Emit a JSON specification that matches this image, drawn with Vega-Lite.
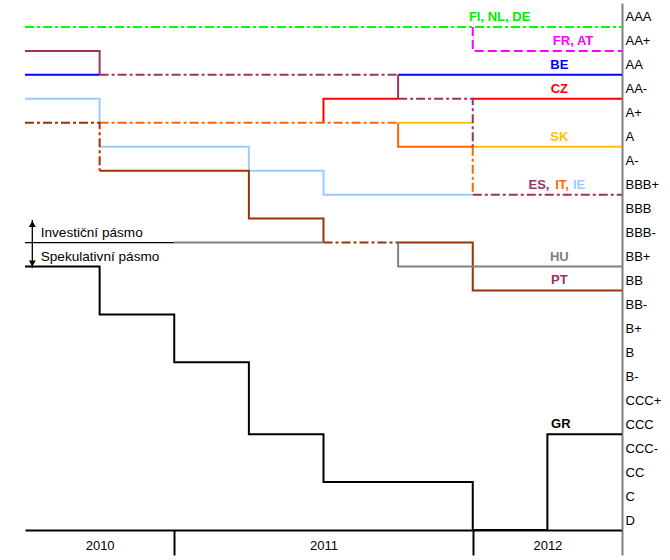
{
  "$schema": "https://vega.github.io/schema/vega-lite/v6.json",
  "width": 597,
  "height": 527,
  "autosize": {"type": "none"},
  "padding": {"left": 25, "top": 3, "right": 48, "bottom": 30},
  "background": "white",
  "config": {"view": {"stroke": null}, "font": "Liberation Sans"},
  "datasets": {
    "lines": [
      {"country": "GR", "piece": "GR", "t": 2010.5, "rating": "BB+"},
      {"country": "GR", "piece": "GR", "t": 2010.75, "rating": "BB-"},
      {"country": "GR", "piece": "GR", "t": 2011.0, "rating": "B"},
      {"country": "GR", "piece": "GR", "t": 2011.25, "rating": "CCC"},
      {"country": "GR", "piece": "GR", "t": 2011.5, "rating": "CC"},
      {"country": "GR", "piece": "GR", "t": 2012.0, "rating": "D"},
      {"country": "GR", "piece": "GR", "t": 2012.25, "rating": "CCC"},
      {"country": "GR", "piece": "GR", "t": 2012.5, "rating": "CCC"},
      {"country": "BE", "piece": "BE-1", "t": 2010.5, "rating": "AA"},
      {"country": "BE", "piece": "BE-1", "t": 2010.75, "rating": "AA"},
      {"country": "BE", "piece": "BE-2", "t": 2011.75, "rating": "AA"},
      {"country": "BE", "piece": "BE-2", "t": 2012.5, "rating": "AA"},
      {"country": "ES", "piece": "ES-1", "t": 2010.5, "rating": "AA+"},
      {"country": "ES", "piece": "ES-1", "t": 2010.75, "rating": "AA"},
      {"country": "ES", "piece": "ES-2", "t": 2010.75, "rating": "AA"},
      {"country": "ES", "piece": "ES-2", "t": 2011.75, "rating": "AA"},
      {"country": "ES", "piece": "ES-3", "t": 2011.75, "rating": "AA"},
      {"country": "ES", "piece": "ES-3", "t": 2011.75, "rating": "AA-"},
      {"country": "ES", "piece": "ES-4", "t": 2011.75, "rating": "AA-"},
      {"country": "ES", "piece": "ES-4", "t": 2012.0, "rating": "A"},
      {"country": "ES", "piece": "ES-5", "t": 2012.0, "rating": "BBB+"},
      {"country": "ES", "piece": "ES-5", "t": 2012.5, "rating": "BBB+"},
      {"country": "CZ", "piece": "CZ-1", "t": 2011.5, "rating": "A+"},
      {"country": "CZ", "piece": "CZ-1", "t": 2011.5, "rating": "AA-"},
      {"country": "CZ", "piece": "CZ-1", "t": 2011.75, "rating": "AA-"},
      {"country": "CZ", "piece": "CZ-2", "t": 2012.0, "rating": "AA-"},
      {"country": "CZ", "piece": "CZ-2", "t": 2012.5, "rating": "AA-"},
      {"country": "IT", "piece": "IT-1", "t": 2010.75, "rating": "A+"},
      {"country": "IT", "piece": "IT-1", "t": 2011.75, "rating": "A+"},
      {"country": "IT", "piece": "IT-2", "t": 2011.75, "rating": "A+"},
      {"country": "IT", "piece": "IT-2", "t": 2011.75, "rating": "A"},
      {"country": "IT", "piece": "IT-2", "t": 2012.0, "rating": "A"},
      {"country": "IT", "piece": "IT-3", "t": 2012.0, "rating": "A"},
      {"country": "IT", "piece": "IT-3", "t": 2012.0, "rating": "BBB+"},
      {"country": "SK", "piece": "SK-1", "t": 2011.75, "rating": "A+"},
      {"country": "SK", "piece": "SK-1", "t": 2012.0, "rating": "A+"},
      {"country": "SK", "piece": "SK-2", "t": 2012.0, "rating": "A"},
      {"country": "SK", "piece": "SK-2", "t": 2012.5, "rating": "A"},
      {"country": "IE", "piece": "IE-1", "t": 2010.5, "rating": "AA-"},
      {"country": "IE", "piece": "IE-1", "t": 2010.75, "rating": "A+"},
      {"country": "IE", "piece": "IE-2", "t": 2010.75, "rating": "A"},
      {"country": "IE", "piece": "IE-2", "t": 2011.25, "rating": "A-"},
      {"country": "IE", "piece": "IE-2", "t": 2011.5, "rating": "BBB+"},
      {"country": "IE", "piece": "IE-2", "t": 2012.0, "rating": "BBB+"},
      {"country": "PT", "piece": "PT-1", "t": 2010.5, "rating": "A+"},
      {"country": "PT", "piece": "PT-1", "t": 2010.75, "rating": "A-"},
      {"country": "PT", "piece": "PT-2", "t": 2010.75, "rating": "A-"},
      {"country": "PT", "piece": "PT-2", "t": 2011.25, "rating": "BBB"},
      {"country": "PT", "piece": "PT-2", "t": 2011.5, "rating": "BBB-"},
      {"country": "PT", "piece": "PT-3", "t": 2011.5, "rating": "BBB-"},
      {"country": "PT", "piece": "PT-3", "t": 2011.75, "rating": "BBB-"},
      {"country": "PT", "piece": "PT-4", "t": 2011.75, "rating": "BBB-"},
      {"country": "PT", "piece": "PT-4", "t": 2012.0, "rating": "BB"},
      {"country": "PT", "piece": "PT-4", "t": 2012.5, "rating": "BB"},
      {"country": "HU", "piece": "HU-1", "t": 2011.0, "rating": "BBB-"},
      {"country": "HU", "piece": "HU-1", "t": 2011.5, "rating": "BBB-"},
      {"country": "HU", "piece": "HU-2", "t": 2011.75, "rating": "BBB-"},
      {"country": "HU", "piece": "HU-2", "t": 2011.75, "rating": "BB+"},
      {"country": "HU", "piece": "HU-2", "t": 2012.5, "rating": "BB+"},
      {"country": "FI, NL, DE", "piece": "FI-NL-DE", "t": 2010.5, "rating": "AAA"},
      {"country": "FI, NL, DE", "piece": "FI-NL-DE", "t": 2012.5, "rating": "AAA"},
      {"country": "FR, AT", "piece": "FR-AT", "t": 2012.0, "rating": "AAA"},
      {"country": "FR, AT", "piece": "FR-AT", "t": 2012.0, "rating": "AA+"},
      {"country": "FR, AT", "piece": "FR-AT", "t": 2012.5, "rating": "AA+"}
    ],
    "guides": [
      {"part": "divider", "t": 2010.5, "rating": "BBB-"},
      {"part": "divider", "t": 2011.0, "rating": "BBB-"},
      {"part": "arrow", "t": 2010.5245, "rating": "BBB"},
      {"part": "arrow", "t": 2010.5245, "rating": "BB+"}
    ],
    "labels": [
      {"label": "FI, NL, DE", "t": 2012.09, "rating": "AAA"},
      {"label": "FR, AT", "t": 2012.336, "rating": "AA+"},
      {"label": "BE", "t": 2012.29, "rating": "AA"},
      {"label": "CZ", "t": 2012.29, "rating": "AA-"},
      {"label": "SK", "t": 2012.29, "rating": "A"},
      {"label": "ES,", "t": 2012.222, "rating": "BBB+"},
      {"label": "IT,", "t": 2012.299, "rating": "BBB+"},
      {"label": "IE", "t": 2012.356, "rating": "BBB+"},
      {"label": "HU", "t": 2012.29, "rating": "BB+"},
      {"label": "PT", "t": 2012.29, "rating": "BB"},
      {"label": "GR", "t": 2012.295, "rating": "CCC"}
    ],
    "notes": [
      {"text": "Investiční pásmo", "t": 2010.5526, "rating": "BBB-"},
      {"text": "Spekulativní pásmo", "t": 2010.5526, "rating": "BB+"}
    ]
  },
  "encoding": {
    "y": {
      "field": "rating",
      "type": "ordinal",
      "scale": {
        "type": "point",
        "padding": 0,
        "domain": [" ", "AAA", "AA+", "AA", "AA-", "A+", "A", "A-", "BBB+", "BBB", "BBB-", "BB+", "BB", "BB-", "B+", "B", "B-", "CCC+", "CCC", "CCC-", "CC", "C", "D"]
      },
      "axis": {
        "orient": "right",
        "title": null,
        "ticks": false,
        "grid": false,
        "domainColor": "#808080",
        "domainWidth": 2,
        "labelAlign": "left",
        "labelBaseline": "middle",
        "labelPadding": 3,
        "labelOffset": -10,
        "labelFontSize": 13,
        "labelColor": "black",
        "labelOverlap": false
      }
    }
  },
  "layer": [
    {
      "data": {"name": "guides"},
      "transform": [{"filter": "datum.part === 'divider'"}],
      "mark": {"type": "line", "color": "black", "strokeWidth": 1.3},
      "encoding": {
        "x": {"field": "t", "type": "quantitative", "scale": {"domain": [2010.5, 2012.5], "nice": false, "zero": false}, "axis": null},
        "order": {"value": null}
      }
    },
    {
      "data": {"name": "lines"},
      "transform": [{"filter": {"field": "piece", "oneOf": ["GR", "BE-1", "BE-2", "ES-1", "ES-3", "CZ-1", "CZ-2", "IT-2", "SK-1", "SK-2", "IE-1", "IE-2", "PT-2", "PT-4", "HU-1", "HU-2"]}}],
      "mark": {"type": "line", "interpolate": "step-after", "strokeWidth": 2},
      "encoding": {
        "x": {
          "field": "t", "type": "quantitative",
          "scale": {"domain": [2010.5, 2012.5], "nice": false, "zero": false},
          "axis": {
            "orient": "bottom", "title": null, "grid": false,
            "values": [2011, 2012, 2012.5],
            "labels": false, "ticks": true, "tickSize": 25, "tickWidth": 2,
            "tickColor": {"condition": {"test": "datum.value > 2012.4", "value": "#808080"}, "value": "black"},
            "domain": true, "domainColor": "black", "domainWidth": 2
          }
        },
        "stroke": {
          "field": "country", "type": "nominal", "legend": null,
          "scale": {
            "domain": ["FI, NL, DE", "FR, AT", "BE", "ES", "CZ", "IT", "SK", "IE", "PT", "HU", "GR"],
            "range": ["#00ff00", "#ff00ff", "#0000ff", "#993366", "#ff0000", "#ff6600", "#ffc000", "#99ccff", "#993300", "#808080", "#000000"]
          }
        },
        "detail": {"field": "piece"},
        "order": {"value": null}
      }
    },
    {
      "data": {"name": "lines"},
      "transform": [{"filter": {"field": "piece", "oneOf": ["FI-NL-DE", "ES-2", "ES-4", "ES-5", "IT-1", "IT-3", "PT-1", "PT-3"]}}],
      "mark": {"type": "line", "interpolate": "step-after", "strokeWidth": 2, "strokeDash": [9, 3, 3, 3]},
      "encoding": {
        "x": {"field": "t", "type": "quantitative", "scale": {"domain": [2010.5, 2012.5], "nice": false, "zero": false}, "axis": null},
        "stroke": {"field": "country", "type": "nominal", "legend": null},
        "detail": {"field": "piece"},
        "order": {"value": null}
      }
    },
    {
      "data": {"name": "lines"},
      "transform": [{"filter": {"field": "piece", "oneOf": ["FR-AT"]}}],
      "mark": {"type": "line", "interpolate": "step-after", "strokeWidth": 2, "strokeDash": [9, 4]},
      "encoding": {
        "x": {"field": "t", "type": "quantitative", "scale": {"domain": [2010.5, 2012.5], "nice": false, "zero": false}, "axis": null},
        "stroke": {"field": "country", "type": "nominal", "legend": null},
        "detail": {"field": "piece"},
        "order": {"value": null}
      }
    },
    {
      "data": {"name": "guides"},
      "transform": [{"filter": "datum.part === 'arrow'"}],
      "mark": {"type": "line", "color": "black", "strokeWidth": 1.3, "yOffset": 1.5},
      "encoding": {
        "x": {"field": "t", "type": "quantitative", "scale": {"domain": [2010.5, 2012.5], "nice": false, "zero": false}, "axis": null},
        "order": {"value": null}
      }
    },
    {
      "data": {"name": "guides"},
      "transform": [{"filter": "datum.part === 'arrow' && datum.rating === 'BBB'"}],
      "mark": {"type": "point", "shape": "triangle-up", "filled": true, "color": "black", "opacity": 1, "size": 49, "yOffset": 5.5},
      "encoding": {
        "x": {"field": "t", "type": "quantitative", "scale": {"domain": [2010.5, 2012.5], "nice": false, "zero": false}, "axis": null}
      }
    },
    {
      "data": {"name": "guides"},
      "transform": [{"filter": "datum.part === 'arrow' && datum.rating === 'BB+'"}],
      "mark": {"type": "point", "shape": "triangle-down", "filled": true, "color": "black", "opacity": 1, "size": 49, "yOffset": -3},
      "encoding": {
        "x": {"field": "t", "type": "quantitative", "scale": {"domain": [2010.5, 2012.5], "nice": false, "zero": false}, "axis": null}
      }
    },
    {
      "data": {"name": "labels"},
      "mark": {"type": "text", "fontWeight": "bold", "fontSize": 13, "align": "center", "baseline": "middle", "dy": -10},
      "encoding": {
        "x": {
          "field": "t", "type": "quantitative",
          "scale": {"domain": [2010.5, 2012.5], "nice": false, "zero": false},
          "axis": {
            "orient": "bottom", "title": null, "grid": false,
            "values": [2010.75, 2011.5, 2012.25],
            "labelExpr": "floor(datum.value)",
            "ticks": false, "tickSize": 0, "domain": false,
            "labelFontSize": 13, "labelColor": "black", "labelPadding": 9, "labelFlush": false
          }
        },
        "text": {"field": "label"},
        "fill": {
          "field": "label", "type": "nominal", "legend": null,
          "scale": {
            "domain": ["FI, NL, DE", "FR, AT", "BE", "CZ", "SK", "ES,", "IT,", "IE", "HU", "PT", "GR"],
            "range": ["#00ee00", "#ff00ff", "#0000ff", "#ff0000", "#ffc000", "#993366", "#ff6600", "#99ccff", "#808080", "#993366", "#000000"]
          }
        }
      }
    },
    {
      "data": {"name": "notes"},
      "mark": {"type": "text", "fontSize": 13.6, "align": "left", "baseline": "middle", "dy": -10, "color": "black"},
      "encoding": {
        "x": {"field": "t", "type": "quantitative", "scale": {"domain": [2010.5, 2012.5], "nice": false, "zero": false}, "axis": null},
        "text": {"field": "text"}
      }
    }
  ],
  "resolve": {"axis": {"x": "independent"}}
}
